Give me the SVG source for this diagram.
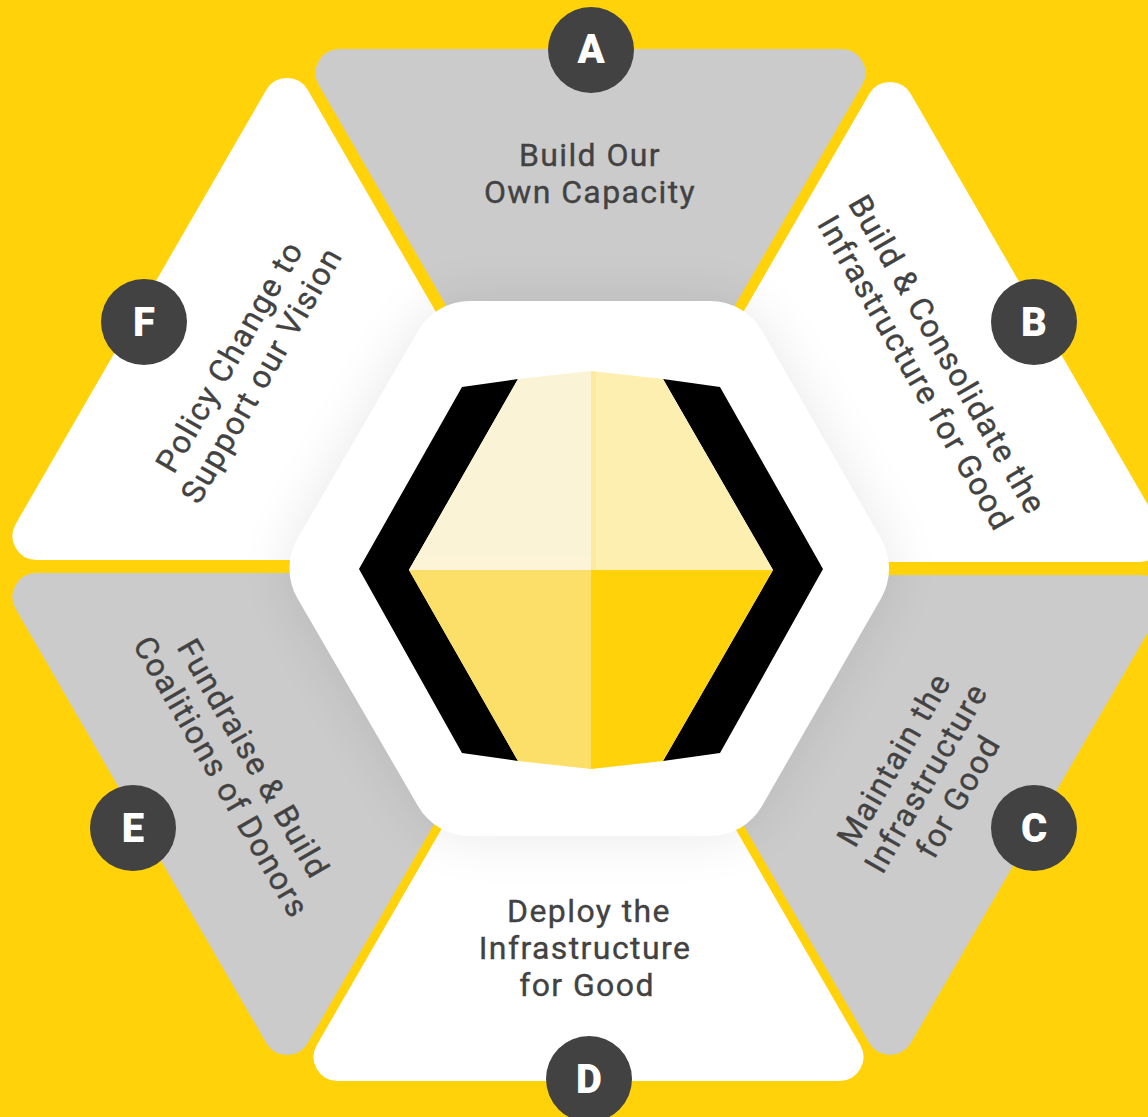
<svg xmlns="http://www.w3.org/2000/svg" width="1148" height="1117" viewBox="0 0 1148 1117">
<style>
.w{fill:#fff}.g{fill:#cbcbcb}
.t{font-family:"Roboto","Liberation Sans",sans-serif;font-size:32px;font-weight:400;fill:#424242;stroke:#424242;stroke-width:.35;text-anchor:middle;letter-spacing:1.4px}
.b{fill:#424242}
.l{font-family:"Roboto","Liberation Sans",sans-serif;font-size:40px;font-weight:900;fill:#fff;text-anchor:middle}
</style>
<defs>
<path id="pa" d="M318.8,85 A24,24 0 0 1 339.6,49 L841.4,49 A24,24 0 0 1 862.2,85 L611.3,519.6 A24,24 0 0 1 569.7,519.6 Z"/>
<path id="pb" d="M869.2,94 A24,24 0 0 1 910.8,94 L1160.1,526 A24,24 0 0 1 1139.3,562 L640.7,562 A24,24 0 0 1 619.9,526 Z"/>
<path id="pc" d="M619.8,611 A24,24 0 0 1 640.6,575 L1139.4,575 A24,24 0 0 1 1160.2,611 L910.8,1043 A24,24 0 0 1 869.2,1043 Z"/>
<path id="pd" d="M567.7,610.4 A24,24 0 0 1 609.3,610.4 L860.2,1045 A24,24 0 0 1 839.4,1081 L337.6,1081 A24,24 0 0 1 316.8,1045 Z"/>
<path id="pe" d="M15.7,609 A24,24 0 0 1 36.5,573 L537.5,573 A24,24 0 0 1 558.3,609 L307.8,1043 A24,24 0 0 1 266.2,1043 Z"/>
<path id="pf" d="M266.2,90 A24,24 0 0 1 307.8,90 L558.3,524 A24,24 0 0 1 537.5,560 L36.5,560 A24,24 0 0 1 15.7,524 Z"/>
<path id="hex" d="M470,301 L710,301 A60,60 0 0 1 762,331 L881,538.5 A60,60 0 0 1 881,598.5 L762,806 A60,60 0 0 1 710,836 L470,836 A60,60 0 0 1 418,806 L297.5,598.5 A60,60 0 0 1 297.5,538.5 L418,331 A60,60 0 0 1 470,301 Z"/>
<clipPath id="tri"><use href="#pa"/><use href="#pb"/><use href="#pc"/><use href="#pd"/><use href="#pe"/><use href="#pf"/></clipPath>
<filter id="blur" filterUnits="userSpaceOnUse" x="100" y="100" width="980" height="940"><feGaussianBlur stdDeviation="28"/></filter>
</defs>
<rect width="1148" height="1117" fill="#ffd20a"/>
<g id="node-a-shape"><use href="#pa" class="g"/></g>
<g id="node-b-shape"><use href="#pb" class="w"/></g>
<g id="node-c-shape"><use href="#pc" class="g"/></g>
<g id="node-d-shape"><use href="#pd" class="w"/></g>
<g id="node-e-shape"><use href="#pe" class="g"/></g>
<g id="node-f-shape"><use href="#pf" class="w"/></g>
<g id="shadow" clip-path="url(#tri)"><use href="#hex" fill="#000" opacity=".09" filter="url(#blur)"/></g>
<g id="center">
<use href="#hex" class="w"/>
<path fill="#000" d="M462,387 L518,379 L409,570 L518,761 L462,753 L359,569 Z"/>
<path fill="#000" d="M720,387 L663,379 L773,570 L663,761 L720,753 L823,569 Z"/>
<path fill="#faf3d5" d="M409,570 L518,379 L591,371 L591,570 Z"/>
<path fill="#fdefb0" d="M591,371 L663,379 L773,570 L591,570 Z"/>
<path fill="#fde9a0" d="M591,371 L596,372 L596,570 L591,570 Z"/>
<path fill="#fdf3d6" d="M417,556 L591,556 L591,570 L409,570 Z"/>
<path fill="#fbdf68" d="M409,570 L591,570 L591,769 L518,761 Z"/>
<path fill="#ffd20a" d="M591,570 L773,570 L663,761 L591,769 Z"/>
</g>
<g id="node-a"><circle class="b" cx="591" cy="50" r="43"/><text class="l" x="591" y="63">A</text>
<text class="t"><tspan x="590" y="166">Build Our</tspan><tspan x="590" y="203">Own Capacity</tspan></text></g>
<g id="node-b"><circle class="b" cx="1034" cy="322" r="43"/><text class="l" x="1034" y="336">B</text>
<text class="t" transform="translate(931,364) rotate(60)"><tspan x="0" y="-8">Build &amp; Consolidate the</tspan><tspan x="0" y="29">Infrastructure for Good</tspan></text></g>
<g id="node-c"><circle class="b" cx="1034" cy="828" r="43"/><text class="l" x="1034" y="842">C</text>
<text class="t" transform="translate(926,778) rotate(-60)"><tspan x="0" y="-26">Maintain the</tspan><tspan x="0" y="11">Infrastructure</tspan><tspan x="0" y="48">for Good</tspan></text></g>
<g id="node-d"><circle class="b" cx="589" cy="1079" r="43"/><text class="l" x="589" y="1093">D</text>
<text class="t"><tspan x="589" y="922">Deploy the</tspan><tspan x="585" y="959">Infrastructure</tspan><tspan x="587" y="996">for Good</tspan></text></g>
<g id="node-e"><circle class="b" cx="133" cy="828" r="43"/><text class="l" x="133" y="842">E</text>
<text class="t" transform="translate(237,768) rotate(60)"><tspan x="0" y="-8">Fundraise &amp; Build</tspan><tspan x="0" y="29">Coalitions of Donors</tspan></text></g>
<g id="node-f"><circle class="b" cx="144" cy="322" r="43"/><text class="l" x="144" y="336">F</text>
<text class="t" transform="translate(246,366) rotate(-60)"><tspan x="0" y="-8">Policy Change to</tspan><tspan x="0" y="29">Support our Vision</tspan></text></g>
</svg>
